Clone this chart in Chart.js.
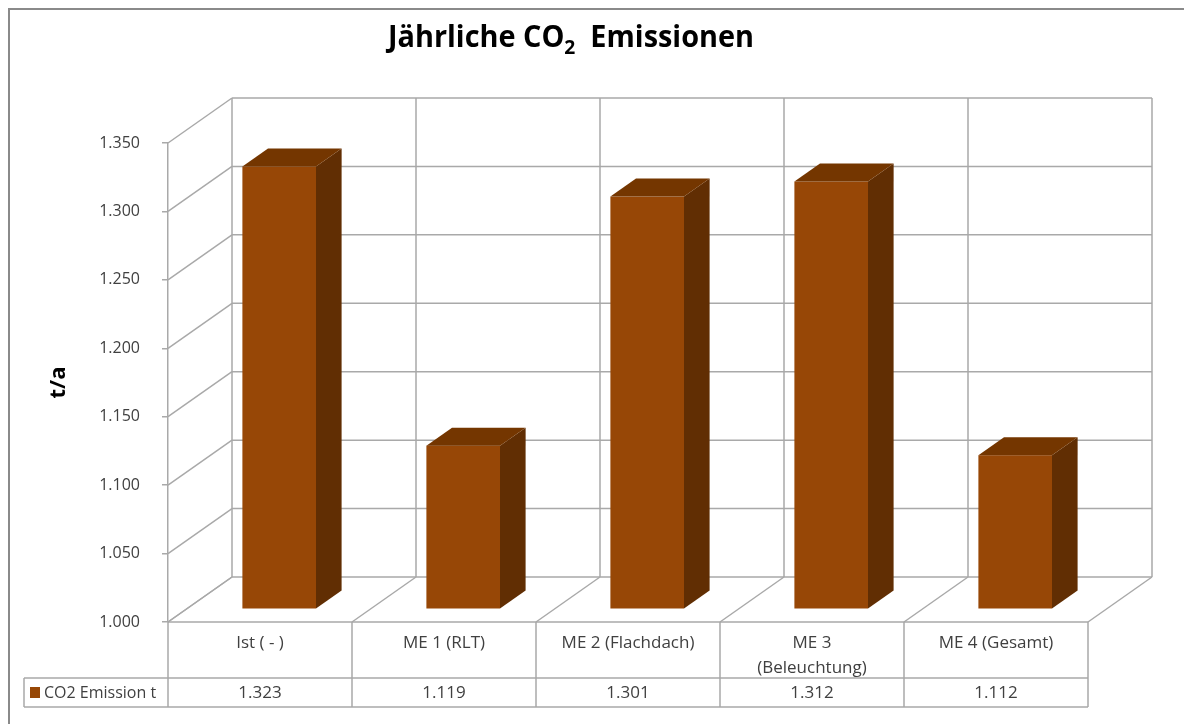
<!DOCTYPE html>
<html>
<head>
<meta charset="utf-8">
<script src="https://cdn.jsdelivr.net/npm/chart.js@4"></script>
<style>
  html, body { margin: 0; padding: 0; background: #fff; }
  #wrap { width: 1184px; height: 724px; }
</style>
</head>
<body>
<div id="wrap"><canvas id="co2"></canvas></div>
<script>
// data
const categories = [['Ist ( - )'], ['ME 1 (RLT)'], ['ME 2 (Flachdach)'], ['ME 3', '(Beleuchtung)'], ['ME 4 (Gesamt)']];
const emissions = [1.323, 1.119, 1.301, 1.312, 1.112];
const seriesName = 'CO2 Emission t';
const axisTitle = 't/a';
const yMin = 1.0, yMax = 1.35, yStep = 0.05;

const DX = 64, DY = -45;          // depth of the box (front -> back)
const barFront = 0.3, barBack = 0.7, barWidth = 0.4;
const gridColor = '#a9a9a9';
const barColors = { front: '#974706', side: '#612e03', top: '#743600' };
const fontFamily = '"Open Sans", "DejaVu Sans", sans-serif';

function line(ctx, x1, y1, x2, y2) {
	ctx.beginPath();
	ctx.moveTo(x1, y1);
	ctx.lineTo(x2, y2);
	ctx.stroke();
}

function catBounds(xs, i) {
	const w = xs.getPixelForValue(1) - xs.getPixelForValue(0);
	const c = xs.getPixelForValue(i);
	return [c - w / 2, c + w / 2, w];
}

const box3d = {
	id: 'box3d',
	beforeDatasetsDraw(chart) {
		const ctx = chart.ctx, xs = chart.scales.x, ys = chart.scales.y;
		const a = chart.chartArea;
		ctx.save();
		ctx.strokeStyle = gridColor;
		ctx.lineWidth = 1.5;
		// back wall and side wall
		ys.ticks.forEach(t => {
			const y = ys.getPixelForValue(t.value);
			line(ctx, a.left + DX, y + DY, a.right + DX, y + DY);
			line(ctx, a.left, y, a.left + DX, y + DY);
		});
		const yTop = ys.getPixelForValue(yMax), yBot = ys.getPixelForValue(yMin);
		for (let i = 0; i <= categories.length; i++) {
			const b = i < categories.length ? catBounds(xs, i)[0] : a.right;
			line(ctx, b + DX, yTop + DY, b + DX, yBot + DY);
			line(ctx, b, yBot, b + DX, yBot + DY);
		}
		line(ctx, a.left, yBot, a.right, yBot);
		ctx.restore();
	},
	afterDatasetsDraw(chart) {
		const ctx = chart.ctx, xs = chart.scales.x, ys = chart.scales.y;
		const y0 = ys.getPixelForValue(yMin);
		ctx.save();
		emissions.forEach((v, i) => {
			const [l, , w] = catBounds(xs, i);
			const x1 = l + w * (1 - barWidth) / 2 + DX * barFront;
			const x2 = x1 + w * barWidth;
			const bottom = y0 + DY * barFront;
			const top = ys.getPixelForValue(v) + DY * barFront;
			const ox = DX * (barBack - barFront), oy = DY * (barBack - barFront);
			ctx.fillStyle = barColors.front;
			ctx.fillRect(x1, top, x2 - x1, bottom - top);
			ctx.fillStyle = barColors.side;
			ctx.beginPath();
			ctx.moveTo(x2, top); ctx.lineTo(x2 + ox, top + oy);
			ctx.lineTo(x2 + ox, bottom + oy); ctx.lineTo(x2, bottom);
			ctx.closePath(); ctx.fill();
			ctx.fillStyle = barColors.top;
			ctx.beginPath();
			ctx.moveTo(x1, top); ctx.lineTo(x1 + ox, top + oy);
			ctx.lineTo(x2 + ox, top + oy); ctx.lineTo(x2, top);
			ctx.closePath(); ctx.fill();
		});
		ctx.restore();
	},
	afterDraw(chart) {
		const ctx = chart.ctx, xs = chart.scales.x;
		const a = chart.chartArea;
		const r1 = a.bottom, r2 = r1 + 56, r3 = r2 + 29, legLeft = 24;
		ctx.save();
		// data table
		ctx.strokeStyle = gridColor;
		ctx.lineWidth = 1.5;
		line(ctx, legLeft, r2, a.right, r2);
		line(ctx, legLeft, r3, a.right, r3);
		line(ctx, legLeft, r2, legLeft, r3);
		for (let i = 0; i <= categories.length; i++) {
			const b = i < categories.length ? catBounds(xs, i)[0] : a.right;
			line(ctx, b, r1, b, r3);
		}
		ctx.fillStyle = '#404040';
		ctx.font = '17px ' + fontFamily;
		ctx.textAlign = 'center';
		ctx.textBaseline = 'middle';
		categories.forEach((lines, i) => {
			const cx = xs.getPixelForValue(i);
			lines.forEach((s, k) => ctx.fillText(s, cx, r1 + 21 + k * 25));
			ctx.fillText(emissions[i].toFixed(3), cx, r2 + 15);
		});
		ctx.fillStyle = barColors.front;
		ctx.fillRect(30, r2 + 9, 10, 11);
		ctx.fillStyle = '#404040';
		ctx.textAlign = 'left';
		ctx.font = '16px ' + fontFamily;
		ctx.fillText(seriesName, 44, r2 + 15);

		// title with subscript
		ctx.fillStyle = '#000';
		ctx.textBaseline = 'alphabetic';
		const big = 'bold 30px ' + fontFamily, small = 'bold 20px ' + fontFamily;
		const parts = [['Jährliche CO', big, 0], ['2', small, 7], ['  Emissionen', big, 0]];
		let total = 0;
		parts.forEach(p => { ctx.font = p[1]; p.push(ctx.measureText(p[0]).width); total += p[3]; });
		const sx = 366 / total;
		ctx.translate(388, 47);
		ctx.scale(sx, 1);
		let x = 0;
		parts.forEach(p => { ctx.font = p[1]; ctx.fillText(p[0], x, p[2]); x += p[3]; });
		ctx.restore();

		// outer frame
		ctx.save();
		ctx.strokeStyle = '#8a8a8a';
		ctx.lineWidth = 2;
		line(ctx, 9, 8, 9, 724);
		line(ctx, 8, 9, 1184, 9);
		ctx.restore();
	}
};

new Chart(document.getElementById('co2'), {
	type: 'bar',
	data: {
		labels: categories,
		datasets: [{
			label: seriesName,
			data: emissions,
			backgroundColor: 'rgba(0,0,0,0)'
		}]
	},
	options: {
		responsive: true,
		maintainAspectRatio: false,
		animation: false,
		layout: { padding: { top: 143, left: 8, right: 96, bottom: 102 } },
		plugins: {
			legend: { display: false },
			tooltip: { enabled: false },
			title: { display: false }
		},
		scales: {
			x: { display: false },
			y: {
				min: yMin,
				max: yMax,
				afterFit: (scale) => { scale.width = 160; },
				ticks: {
					stepSize: yStep,
					padding: 22,
					color: '#404040',
					font: { family: fontFamily, size: 16 },
					callback: (v) => v.toFixed(3)
				},
				grid: { drawOnChartArea: false, tickLength: 6, color: gridColor, lineWidth: 1.5 },
				border: { color: gridColor, width: 1.5 },
				title: {
					display: true,
					text: axisTitle,
					color: '#000',
					padding: { top: 38 },
					font: { family: fontFamily, size: 22, weight: 'bold' }
				}
			}
		}
	},
	plugins: [box3d]
});
</script>
</body>
</html>
